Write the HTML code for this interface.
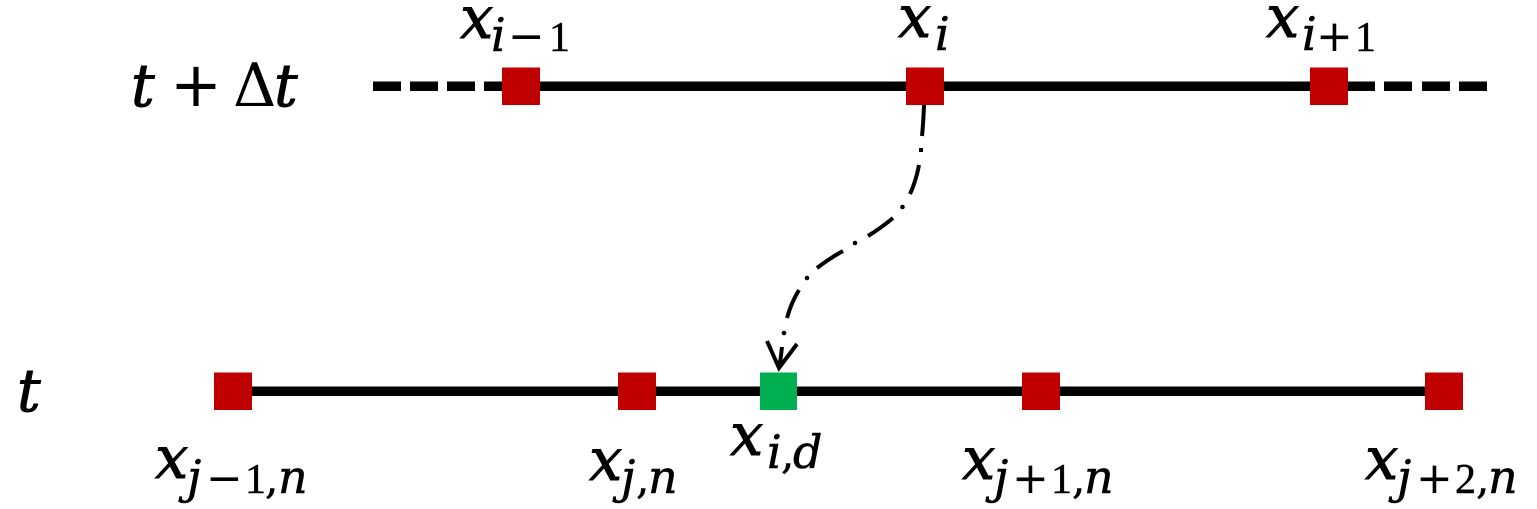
<!DOCTYPE html>
<html><head><meta charset="utf-8">
<style>
html,body{margin:0;padding:0;background:#fff;width:1537px;height:509px;overflow:hidden}
svg{display:block}
text{fill:#000}
.m{font-family:"DejaVu Serif",serif;font-style:italic;font-size:59px;stroke:#000;stroke-width:.9px}
.s{font-family:"DejaVu Serif",serif;font-style:italic;font-size:46px;stroke:#000;stroke-width:.6px}
.o{font-family:"DejaVu Sans",sans-serif;font-size:44px}
.u{font-family:"Liberation Serif",serif;font-size:42px;stroke:#000;stroke-width:.5px}
.c{font-family:"DejaVu Serif",serif;font-size:42px;stroke:#000;stroke-width:.5px}
</style></head><body>
<svg width="1537" height="509" viewBox="0 0 1537 509" xmlns="http://www.w3.org/2000/svg">
<rect width="1537" height="509" fill="#fff"/>
<g fill="#000">
<rect x="373" y="81.5" width="28" height="9.5"/><rect x="410" y="81.5" width="28" height="9.5"/><rect x="447" y="81.5" width="28" height="9.5"/>
<rect x="484" y="81.5" width="891" height="9.5"/>
<rect x="1384" y="81.5" width="28" height="9.5"/><rect x="1422" y="81.5" width="28" height="9.5"/><rect x="1459" y="81.5" width="28" height="9.5"/>
<rect x="233" y="386.5" width="1211" height="9.5"/>
</g>
<g fill="#c00000">
<rect x="502" y="67.5" width="38" height="37.5"/><rect x="906" y="67.5" width="38" height="37.5"/><rect x="1310" y="67.5" width="38" height="37.5"/>
<rect x="214" y="372.5" width="38" height="37.5"/><rect x="618" y="372.5" width="38" height="37.5"/><rect x="1022" y="372.5" width="38" height="37.5"/><rect x="1425" y="372.5" width="38" height="37.5"/>
</g>
<rect x="760" y="372.5" width="37" height="37.5" fill="#00b050"/>
<g fill="none" stroke="#000" stroke-width="4">
<path d="M924 105Q923.500 121 922 136"/>
<path d="M919 165Q916 181 910 194"/>
<path d="M893 218Q881 228 868 236"/>
<path d="M843 251Q830 258 817 268"/>
<path d="M799 290Q791 303 787 318"/>
<path d="M782 347Q781 358 779 368"/>
<path d="M767 341L779 368L797 344"/>
</g>
<g fill="#000">
<rect x="919" y="148" width="4" height="4"/><circle cx="902.500" cy="207" r="2.300"/><circle cx="855" cy="243" r="2.300"/><circle cx="807" cy="278" r="2.300"/><circle cx="784" cy="333" r="2.300"/>
</g>
<text class="m" x="131" y="106">t</text>
<text class="o" x="170" y="106" style="font-size:62px">+</text>
<text class="c" x="233" y="106" style="font-size:60px;stroke-width:0">Δ</text>
<text class="m" x="274" y="106">t</text>
<text class="m" x="17" y="411">t</text>
<text class="m" x="460" y="38">x</text><text class="s" x="491" y="51">i</text><text class="o" x="508" y="51">−</text><text class="u" x="549" y="51">1</text>
<text class="m" x="898" y="37">x</text><text class="s" x="935" y="50">i</text>
<text class="m" x="1266" y="37">x</text><text class="s" x="1302" y="50">i</text><text class="o" x="1316" y="51">+</text><text class="u" x="1355" y="51">1</text>
<text class="m" x="155" y="478">x</text><text class="s" x="187" y="493">j</text><text class="o" x="206" y="493">−</text><text class="u" x="245" y="493">1</text><text class="c" x="265" y="493">,</text><text class="s" x="278" y="493">n</text>
<text class="m" x="589" y="480">x</text><text class="s" x="621" y="493">j</text><text class="c" x="636" y="493">,</text><text class="s" x="648" y="493">n</text>
<text class="m" x="730" y="455">x</text><text class="s" x="767" y="468">i</text><text class="c" x="781" y="468">,</text><text class="s" x="793" y="468">d</text>
<text class="m" x="962" y="479">x</text><text class="s" x="994" y="493">j</text><text class="o" x="1012" y="493">+</text><text class="u" x="1051" y="493">1</text><text class="c" x="1072" y="493">,</text><text class="s" x="1084" y="493">n</text>
<text class="m" x="1365" y="479">x</text><text class="s" x="1397" y="493">j</text><text class="o" x="1416" y="493">+</text><text class="u" x="1455" y="493">2</text><text class="c" x="1476" y="493">,</text><text class="s" x="1488" y="493">n</text>
</svg>
</body></html>
